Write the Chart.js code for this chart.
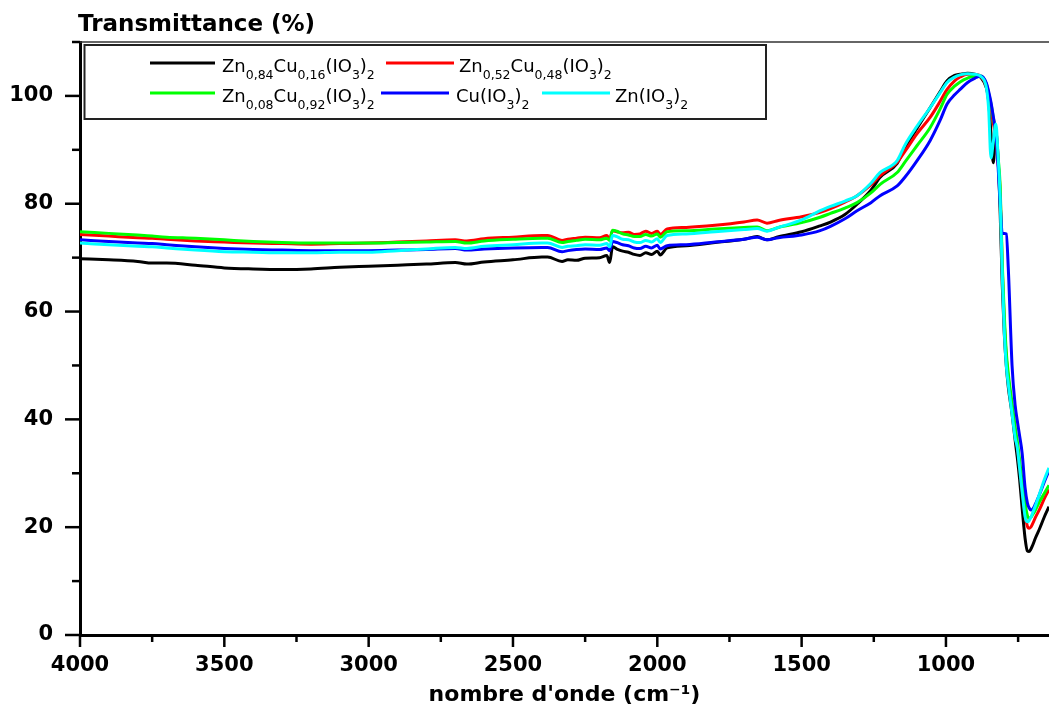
<!DOCTYPE html>
<html>
<head>
<meta charset="utf-8">
<script src="https://cdn.jsdelivr.net/npm/chart.js@4.4.1/dist/chart.umd.min.js"></script>
<style>
  body { margin: 0; background: #fff; }
  #wrap { width: 1049px; height: 708px; position: relative; }
</style>
</head>
<body>
<div id="wrap"><canvas id="ftirChart"></canvas></div>
<script>
// ---data---

var wavenumbers = [
  4000, 3900, 3800, 3750, 3700, 3600, 3500, 3400, 3300, 3200,
  3100, 3000, 2900, 2800, 2700, 2660, 2600, 2500, 2400, 2380,
  2330, 2310, 2280, 2250, 2200, 2175, 2165, 2155, 2140, 2120,
  2100, 2080, 2060, 2040, 2020, 2000, 1990, 1966, 1900, 1800,
  1700, 1654, 1620, 1580, 1500, 1436, 1400, 1350, 1308, 1260,
  1228, 1169, 1141, 1100, 1055, 1020, 996, 970, 951, 925,
  899, 879, 860, 852, 844, 836, 827, 820, 812, 805,
  798, 791, 784, 771, 760, 753, 745, 736, 726, 718,
  712, 706, 700, 690, 675, 660, 643
];

var zn084 = [
  69.8, 69.6, 69.3, 69.0, 69.0, 68.6, 68.1, 67.9, 67.8, 67.9,
  68.2, 68.4, 68.6, 68.8, 69.1, 68.8, 69.2, 69.6, 70.1, 70.1,
  69.3, 69.6, 69.5, 69.9, 70.0, 70.4, 69.1, 72.0, 71.6, 71.2,
  71.0, 70.6, 70.4, 70.9, 70.6, 71.2, 70.5, 71.8, 72.2, 72.8,
  73.4, 73.9, 73.3, 73.9, 74.8, 75.9, 76.6, 78.0, 79.9, 82.5,
  84.9, 87.5, 90.5, 94.0, 97.8, 100.8, 102.8, 103.8, 104.0, 104.2,
  104.0, 103.4, 101.5, 99.0, 93.0, 87.6, 93.5, 89.0, 78.0, 65.0,
  56.0, 50.0, 46.0, 41.0, 36.0, 33.0, 29.0, 23.5, 18.0, 15.6,
  15.5, 15.9, 16.6, 18.0, 19.8, 21.8, 23.8
];

var zn052 = [
  74.3, 74.0, 73.7, 73.6, 73.4, 73.1, 72.9, 72.7, 72.6, 72.5,
  72.6, 72.7, 72.9, 73.1, 73.3, 73.1, 73.5, 73.8, 74.1, 74.1,
  73.2, 73.4, 73.6, 73.8, 73.7, 74.1, 73.5, 75.0, 74.8, 74.6,
  74.7, 74.3, 74.4, 74.9, 74.5, 74.9, 74.3, 75.3, 75.6, 76.0,
  76.6, 77.0, 76.4, 76.9, 77.6, 78.4, 79.1, 80.3, 81.5, 83.5,
  85.2, 87.7, 89.8, 93.0, 96.0, 99.0, 101.2, 102.8, 103.5, 104.0,
  104.0, 103.6, 101.8, 100.0, 97.5, 95.0, 92.0, 88.0, 82.0, 68.0,
  58.0, 51.5, 47.5, 42.0, 37.5, 35.0, 31.5, 27.0, 22.5, 20.2,
  19.8, 20.0, 20.6, 21.8, 23.4, 25.2, 27.0
];

var zn008 = [
  74.8, 74.5, 74.2, 74.0, 73.8, 73.6, 73.3, 73.0, 72.8, 72.7,
  72.7, 72.7, 72.8, 72.9, 73.0, 72.7, 73.1, 73.4, 73.6, 73.6,
  72.8, 73.0, 73.2, 73.4, 73.3, 73.6, 73.2, 75.1, 74.9, 74.4,
  74.2, 73.9, 73.9, 74.3, 74.0, 74.4, 73.8, 74.8, 75.0, 75.3,
  75.6, 75.7, 75.0, 75.6, 76.5, 77.5, 78.2, 79.2, 80.2, 82.0,
  83.6, 85.8, 87.8, 90.8, 94.1, 97.6, 100.3, 101.8, 102.6, 103.3,
  103.7, 103.7, 102.2, 100.5, 98.5, 96.0, 93.0, 89.0, 83.0, 69.0,
  59.5, 52.5, 48.5, 43.0, 38.5, 36.0, 32.5, 28.5, 24.5, 22.2,
  21.7, 21.8, 22.3, 23.2, 24.8, 26.2, 27.8
];

var cuIO3 = [
  73.3, 73.0, 72.7, 72.6, 72.4, 72.0, 71.7, 71.5, 71.4, 71.3,
  71.3, 71.3, 71.4, 71.5, 71.7, 71.4, 71.6, 71.8, 71.9, 71.9,
  71.1, 71.3, 71.5, 71.6, 71.5, 71.8, 71.3, 73.0, 72.8, 72.4,
  72.2, 71.8, 71.7, 72.1, 71.8, 72.3, 71.6, 72.2, 72.4, 72.9,
  73.4, 73.8, 73.3, 73.7, 74.2, 75.0, 75.8, 77.2, 78.7, 80.2,
  81.5, 83.3, 85.0, 88.0, 91.7, 95.5, 98.5, 100.2, 101.2, 102.5,
  103.3, 103.7, 102.4, 100.8, 98.8, 96.2, 93.0, 87.5, 80.0, 74.5,
  74.5, 74.4, 68.0, 50.0, 42.5, 39.8, 37.0, 33.7, 27.4, 24.5,
  23.6, 23.2, 23.3, 24.3, 26.2, 28.3, 30.5
];

var znIO3 = [
  72.7, 72.4, 72.1, 72.0, 71.8, 71.4, 71.1, 71.0, 70.9, 70.9,
  71.0, 71.0, 71.3, 71.6, 71.9, 71.7, 72.1, 72.4, 72.7, 72.7,
  71.9, 72.1, 72.2, 72.4, 72.3, 72.6, 72.0, 74.1, 73.9, 73.4,
  73.3, 72.9, 72.8, 73.2, 72.9, 73.5, 72.8, 74.1, 74.4, 74.8,
  75.2, 75.4, 74.9, 75.6, 77.0, 78.7, 79.5, 80.5, 81.5, 83.8,
  85.8, 88.0, 91.0, 94.4, 97.8, 100.6, 102.5, 103.5, 103.9, 104.1,
  104.0, 103.6, 101.5, 97.5, 88.5, 91.5, 94.8, 89.5, 80.6, 67.0,
  56.5, 50.0, 46.5, 41.0, 36.5, 34.8, 31.0, 26.5, 22.0, 21.0,
  21.2, 21.8, 22.6, 24.0, 26.3, 28.7, 31.0
];

var seriesNames = ["Zn0,84Cu0,16(IO3)2", "Zn0,52Cu0,48(IO3)2", "Zn0,08Cu0,92(IO3)2", "Cu(IO3)2", "Zn(IO3)2"];
var seriesColors = ["#000000", "#ff0000", "#00ff00", "#0000ff", "#00ffff"];

// legend text split into normal / subscript pieces (1 = subscript)
var legendParts = [
  [["Zn", 0], ["0,84", 1], ["Cu", 0], ["0,16", 1], ["(IO", 0], ["3", 1], [")", 0], ["2", 1]],
  [["Zn", 0], ["0,52", 1], ["Cu", 0], ["0,48", 1], ["(IO", 0], ["3", 1], [")", 0], ["2", 1]],
  [["Zn", 0], ["0,08", 1], ["Cu", 0], ["0,92", 1], ["(IO", 0], ["3", 1], [")", 0], ["2", 1]],
  [["Cu(IO", 0], ["3", 1], [")", 0], ["2", 1]],
  [["Zn(IO", 0], ["3", 1], [")", 0], ["2", 1]]
];

var xTicks = [4000, 3500, 3000, 2500, 2000, 1500, 1000];
var xMinor = [3750, 3250, 2750, 2250, 1750, 1250, 750];
var yTicks = [0, 20, 40, 60, 80, 100];
var yMinor = [10, 30, 50, 70, 90, 110];

// ---chart script---

Chart.defaults.font.family = "'DejaVu Sans', sans-serif";
Chart.defaults.color = "#000";

function toPoints(vals) {
  return wavenumbers.map(function (w, i) {
    return { x: w, y: vals[i] };
  });
}

var allSeries = [zn084, zn052, zn008, cuIO3, znIO3];
var datasets = allSeries.map(function (vals, i) {
  return {
    label: seriesNames[i],
    data: toPoints(vals),
    borderColor: seriesColors[i],
    backgroundColor: seriesColors[i],
    borderWidth: 3,
    pointRadius: 0,
    fill: false,
    cubicInterpolationMode: "monotone",
    order: allSeries.length - i
  };
});

// tick marks, top frame, header and the legend box
var extras = {
  id: "extras",
  afterDraw: function (chart) {
    var ctx = chart.ctx;
    var area = chart.chartArea;
    var xs = chart.scales.x;
    var ys = chart.scales.y;

    function seg(x1, y1, x2, y2) {
      ctx.beginPath();
      ctx.moveTo(x1, y1);
      ctx.lineTo(x2, y2);
      ctx.stroke();
    }

    ctx.save();
    ctx.strokeStyle = "#000";
    ctx.lineWidth = 2.5;
    xTicks.forEach(function (v) {
      var px = xs.getPixelForValue(v);
      seg(px, area.bottom, px, area.bottom + 12);
    });
    xMinor.forEach(function (v) {
      var px = xs.getPixelForValue(v);
      seg(px, area.bottom, px, area.bottom + 7);
    });
    yTicks.forEach(function (v) {
      var py = ys.getPixelForValue(v);
      seg(area.left - 15, py, area.left, py);
    });
    yMinor.forEach(function (v) {
      var py = ys.getPixelForValue(v);
      seg(area.left - 8, py, area.left, py);
    });

    // top frame
    ctx.strokeStyle = "#333";
    ctx.lineWidth = 1.5;
    seg(area.left, area.top, area.right, area.top);

    // header
    ctx.fillStyle = "#000";
    ctx.textBaseline = "alphabetic";
    ctx.textAlign = "left";
    ctx.font = "bold 23px 'DejaVu Sans'";
    ctx.fillText("Transmittance (%)", 78, 31);

    // legend
    ctx.strokeStyle = "#222";
    ctx.lineWidth = 2;
    ctx.strokeRect(84.5, 45, 681.5, 74);

    var slots = [
      { x1: 150, x2: 215, tx: 222, y: 63 },
      { x1: 386, x2: 454, tx: 459, y: 63 },
      { x1: 150, x2: 215, tx: 222, y: 93 },
      { x1: 381, x2: 449, tx: 456, y: 93 },
      { x1: 542, x2: 610, tx: 615, y: 93 }
    ];
    slots.forEach(function (s, i) {
      ctx.strokeStyle = seriesColors[i];
      ctx.lineWidth = 3;
      seg(s.x1, s.y, s.x2, s.y);
      var x = s.tx;
      legendParts[i].forEach(function (p) {
        if (p[1]) {
          ctx.font = "12.5px 'DejaVu Sans'";
          ctx.fillText(p[0], x, s.y + 16);
        } else {
          ctx.font = "18px 'DejaVu Sans'";
          ctx.fillText(p[0], x, s.y + 9);
        }
        x += ctx.measureText(p[0]).width;
      });
    });
    ctx.restore();
  }
};

var ctxL = document.getElementById("ftirChart").getContext("2d");
var ftirChart = new Chart(ctxL, {
  type: "line",
  data: { datasets: datasets },
  plugins: [extras],
  options: {
    responsive: true,
    maintainAspectRatio: false,
    animation: false,
    layout: { padding: { top: 42, right: 0, bottom: 0, left: 0 } },
    plugins: {
      legend: { display: false },
      tooltip: { enabled: false },
      title: { display: false }
    },
    scales: {
      x: {
        type: "linear",
        reverse: true,
        min: 643,
        max: 4000,
        afterBuildTicks: function (scale) {
          scale.ticks = xTicks.map(function (v) { return { value: v }; });
        },
        afterFit: function (scale) {
          scale.height = 73;
        },
        grid: { display: false, drawTicks: false },
        border: { display: true, color: "#000", width: 3 },
        ticks: {
          color: "#000",
          padding: 18,
          autoSkip: false,
          maxRotation: 0,
          font: { size: 21, weight: "bold" },
          callback: function (value) { return String(value); }
        },
        title: {
          display: true,
          text: "nombre d'onde (cm⁻¹)",
          color: "#000",
          padding: { top: 0, bottom: 0 },
          font: { size: 22, weight: "bold" }
        }
      },
      y: {
        type: "linear",
        min: 0,
        max: 110,
        afterBuildTicks: function (scale) {
          scale.ticks = yTicks.map(function (v) { return { value: v }; });
        },
        afterFit: function (scale) {
          scale.width = 80;
        },
        grid: { display: false, drawTicks: false },
        border: { display: true, color: "#000", width: 3 },
        ticks: {
          color: "#000",
          padding: 27,
          font: { size: 21, weight: "bold" },
          callback: function (value) { return String(value); }
        }
      }
    }
  }
});
</script>
</body>
</html>
